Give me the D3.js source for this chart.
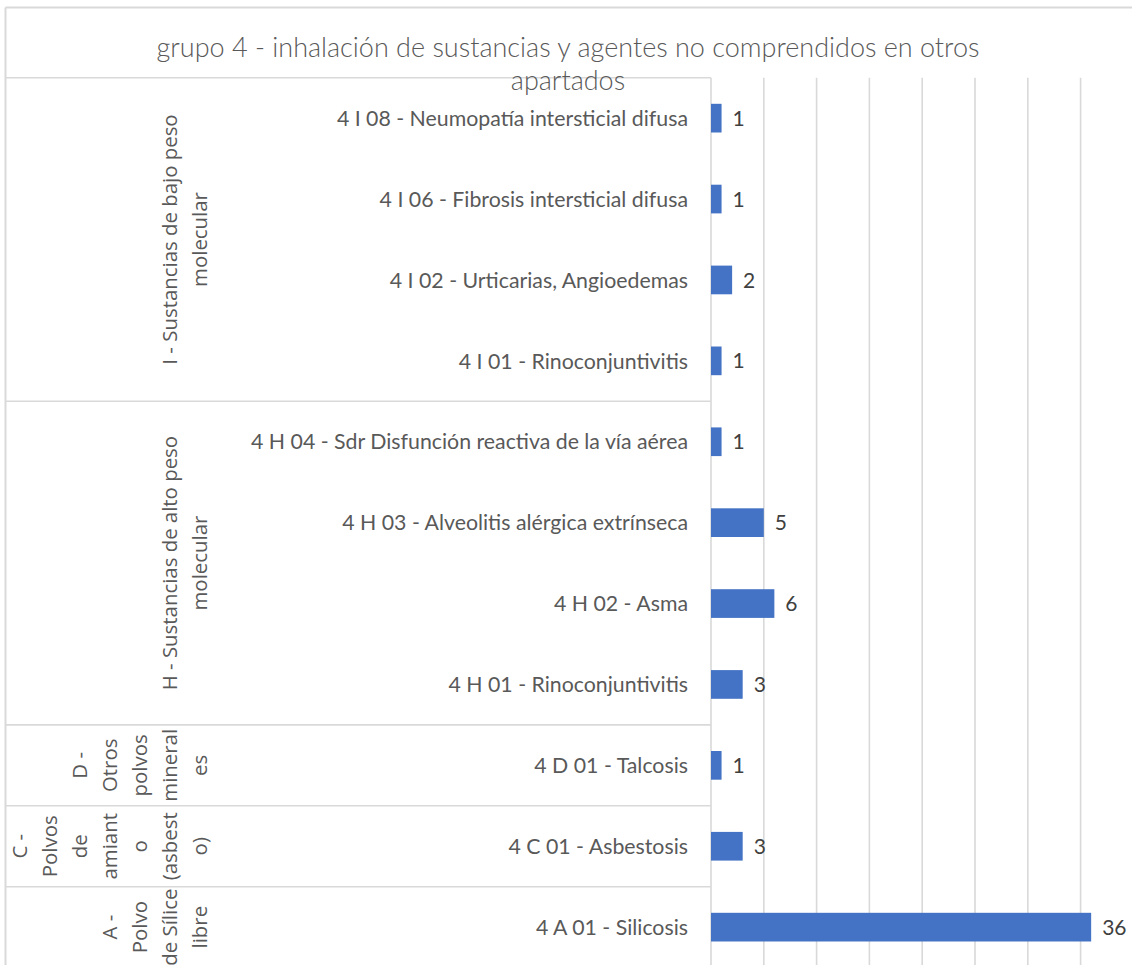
<!DOCTYPE html>
<html>
<head>
<meta charset="utf-8">
<script src="https://cdn.jsdelivr.net/npm/d3@7"></script>
<style>
  html, body { margin: 0; padding: 0; background: #ffffff; }
  svg { display: block; }
</style>
</head>
<body>
<svg id="chart" width="1132" height="965"></svg>
<script>
// Enfermedades profesionales, grupo 4: número de casos por código
const categories = [
  "4 I 08 - Neumopatía intersticial difusa",
  "4 I 06 - Fibrosis intersticial difusa",
  "4 I 02 - Urticarias, Angioedemas",
  "4 I 01 - Rinoconjuntivitis",
  "4 H 04 - Sdr Disfunción reactiva de la vía aérea",
  "4 H 03 - Alveolitis alérgica extrínseca",
  "4 H 02 - Asma",
  "4 H 01 - Rinoconjuntivitis",
  "4 D 01 - Talcosis",
  "4 C 01 - Asbestosis",
  "4 A 01 - Silicosis"
];
const values = [1, 1, 2, 1, 1, 5, 6, 3, 1, 3, 36];

// Agentes (segundo nivel del eje de categorías) y su número de códigos
const groupNames = [
  "I - Sustancias de bajo peso molecular",
  "H - Sustancias de alto peso molecular",
  "D - Otros polvos minerales",
  "C - Polvos de amianto (asbesto)",
  "A - Polvo de Sílice libre"
];
const groupSizes = [4, 4, 1, 1, 1];
// Líneas del rótulo de cada agente, tal como se cortan en su celda
const groupLines = [
  ["I - Sustancias de bajo peso", "molecular"],
  ["H - Sustancias de alto peso", "molecular"],
  ["D -", "Otros", "polvos", "mineral", "es"],
  ["C -", "Polvos", "de", "amiant", "o", "(asbest", "o)"],
  ["A -", "Polvo", "de Sílice", "libre"]
];
const xTicks = [0, 5, 10, 15, 20, 25, 30, 35, 40];
const titleLines = ["grupo 4 - inhalación de sustancias y agentes no comprendidos en otros", "apartados"];

const svg = d3.select("#chart");
const gridColor = "#d9d9d9";
const textColor = "#595959";

const plotTop = 77.7, plotBottom = 967.6;
const axisX = 711;

const x = d3.scaleLinear().domain([0, 40]).range([axisX, 1133.4]);
const y = d3.scaleBand().domain(categories).range([plotTop, plotBottom]).paddingInner(0).paddingOuter(0);
const barH = y.bandwidth() / 2.82;

// Chart frame (top and left edges)
svg.append("line").attr("x1", 5.5).attr("x2", 1132).attr("y1", 7.5).attr("y2", 7.5)
  .attr("stroke", gridColor).attr("stroke-width", 2);
svg.append("line").attr("x1", 5.5).attr("x2", 5.5).attr("y1", 7.5).attr("y2", 965)
  .attr("stroke", gridColor).attr("stroke-width", 2);

// Vertical gridlines
svg.append("g").selectAll("line").data(xTicks).join("line")
  .attr("x1", d => x(d)).attr("x2", d => x(d))
  .attr("y1", plotTop).attr("y2", plotBottom)
  .attr("stroke", gridColor).attr("stroke-width", 1.6);

// Group boundaries across the category axis
const boundaries = [0];
groupSizes.reduce((acc, n) => { boundaries.push(acc + n); return acc + n; }, 0);
svg.append("g").selectAll("line").data(boundaries.slice(0, -1)).join("line")
  .attr("x1", 5.5).attr("x2", axisX)
  .attr("y1", i => y(categories[i])).attr("y2", i => y(categories[i]))
  .attr("stroke", gridColor).attr("stroke-width", 1.6);

// Bars
svg.append("g").selectAll("rect").data(values).join("rect")
  .attr("x", x(0))
  .attr("y", (d, i) => y(categories[i]) + (y.bandwidth() - barH) / 2)
  .attr("width", d => x(d) - x(0))
  .attr("height", barH)
  .attr("fill", "#4472c4");

// Value labels
svg.append("g").selectAll("text").data(values).join("text")
  .attr("x", d => x(d) + 11)
  .attr("y", (d, i) => y(categories[i]) + y.bandwidth() / 2)
  .attr("dy", "0.36em")
  .attr("font-family", "Lato, 'Open Sans', sans-serif")
  .attr("font-size", 21)
  .attr("fill", "#404040")
  .text(d => d);

// Category labels
svg.append("g").selectAll("text").data(categories).join("text")
  .attr("x", 688)
  .attr("y", d => y(d) + y.bandwidth() / 2)
  .attr("dy", "0.36em")
  .attr("text-anchor", "end")
  .attr("font-family", "Lato, 'Open Sans', sans-serif")
  .attr("font-size", 21.3)
  .attr("fill", textColor)
  .text(d => d);

// Group labels, rotated, one column per wrapped line
const lineStep = 30;
const lastLineX = 200;
groupLines.forEach((lines, gi) => {
  const first = categories[boundaries[gi]];
  const last = categories[boundaries[gi + 1] - 1];
  const cy = (y(first) + y(last) + y.bandwidth()) / 2;
  const n = lines.length;
  const g = svg.append("g").attr("class", "group-label").attr("aria-label", groupNames[gi]);
  g.selectAll("text").data(lines).join("text")
    .attr("transform", (d, i) => `translate(${lastLineX - (n - 1 - i) * lineStep},${cy}) rotate(-90)`)
    .attr("text-anchor", "middle")
    .attr("dy", "0.35em")
    .attr("font-family", "'Open Sans', sans-serif")
    .attr("font-size", 20.4)
    .attr("fill", textColor)
    .text(d => d);
});

// Title, two lines in one text element
const title = svg.append("text")
  .attr("x", 568)
  .attr("y", 57)
  .attr("text-anchor", "middle")
  .attr("font-family", "Lato, sans-serif")
  .attr("font-weight", 300)
  .attr("font-size", 27)
  .attr("fill", textColor);
title.selectAll("tspan").data(titleLines).join("tspan")
  .attr("x", 568)
  .attr("dy", (d, i) => i === 0 ? 0 : 33)
  .text(d => d);
</script>
</body>
</html>
